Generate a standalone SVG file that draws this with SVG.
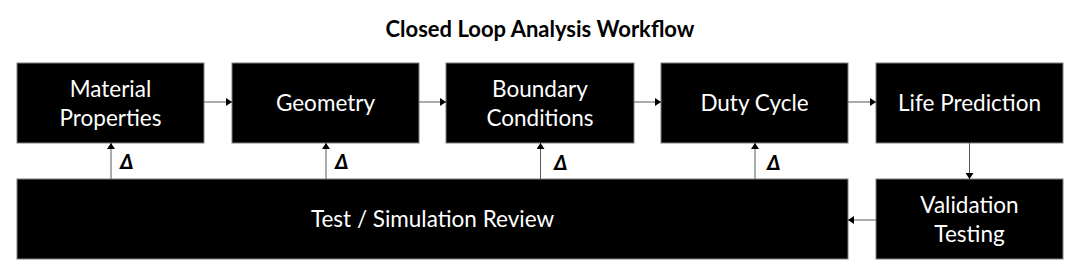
<svg xmlns="http://www.w3.org/2000/svg" width="1080" height="271" viewBox="0 0 1080 271">
<defs>
<style>
.box{fill:#000;stroke:#7f7f7f;stroke-width:1}
.lbl{font-family:Lato,"Open Sans",sans-serif;font-size:22.5px;fill:#fff;text-anchor:middle}
.title{font-family:Lato,"Open Sans",sans-serif;font-size:22px;font-weight:bold;fill:#000;text-anchor:middle}
.delta{font-family:Lato,"Open Sans",sans-serif;font-size:20px;font-weight:900;font-style:italic;fill:#000}
.con{stroke:#595959;stroke-width:1;fill:none;marker-end:url(#ah)}
</style>
<marker id="ah" viewBox="0 0 6 8" refX="6" refY="4" markerWidth="6" markerHeight="8" markerUnits="userSpaceOnUse" orient="auto">
<path d="M0,0 L6,4 L0,8 z" fill="#000"/>
</marker>
</defs>
<rect width="1080" height="271" fill="#fff"/>
<text class="title" x="540" y="37">Closed Loop Analysis Workflow</text>
<g id="material">
<rect class="box" x="17" y="63" width="187" height="80"/>
<text class="lbl" x="110.5" y="97">Material</text>
<text class="lbl" x="110.5" y="126">Properties</text>
</g>
<g id="geometry">
<rect class="box" x="232" y="63" width="187" height="80"/>
<text class="lbl" x="325.5" y="111">Geometry</text>
</g>
<g id="boundary">
<rect class="box" x="446" y="63" width="188" height="80"/>
<text class="lbl" x="540" y="97">Boundary</text>
<text class="lbl" x="540" y="126">Conditions</text>
</g>
<g id="duty">
<rect class="box" x="661" y="63" width="187" height="80"/>
<text class="lbl" x="754.5" y="111">Duty Cycle</text>
</g>
<g id="life">
<rect class="box" x="876" y="63" width="187" height="80"/>
<text class="lbl" x="969.5" y="111">Life Prediction</text>
</g>
<g id="validation">
<rect class="box" x="876" y="179" width="187" height="80"/>
<text class="lbl" x="969.5" y="213">Validation</text>
<text class="lbl" x="969.5" y="242">Testing</text>
</g>
<g id="review">
<rect class="box" x="17" y="179" width="831" height="80"/>
<text class="lbl" x="432.5" y="227">Test / Simulation Review</text>
</g>
<g id="connectors">
<line class="con" x1="204" y1="102" x2="232" y2="102"/>
<line class="con" x1="419" y1="102" x2="446" y2="102"/>
<line class="con" x1="634" y1="102" x2="661" y2="102"/>
<line class="con" x1="848" y1="102" x2="876" y2="102"/>
<line class="con" x1="969.5" y1="143" x2="969.5" y2="179"/>
<line class="con" x1="876" y1="220" x2="848" y2="220"/>
<line class="con" x1="111" y1="179" x2="111" y2="143"/>
<line class="con" x1="326" y1="179" x2="326" y2="143"/>
<line class="con" x1="540.5" y1="179" x2="540.5" y2="143"/>
<line class="con" x1="755" y1="179" x2="755" y2="143"/>
</g>
<g id="deltas">
<text class="delta" x="120" y="169">Δ</text>
<text class="delta" x="335" y="169">Δ</text>
<text class="delta" x="554" y="170">Δ</text>
<text class="delta" x="767" y="170">Δ</text>
</g>
</svg>
